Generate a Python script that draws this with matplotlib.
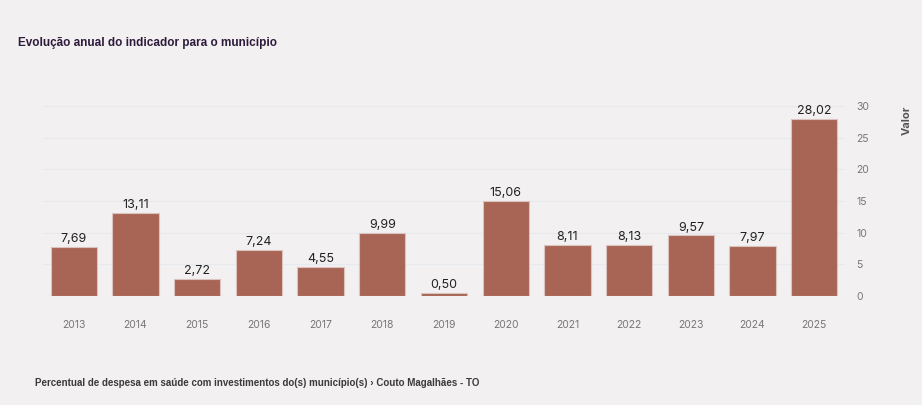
import matplotlib.pyplot as plt

years = ['2013', '2014', '2015', '2016', '2017', '2018', '2019',
         '2020', '2021', '2022', '2023', '2024', '2025']
valores = [7.69, 13.11, 2.72, 7.24, 4.55, 9.99, 0.50,
           15.06, 8.11, 8.13, 9.57, 7.97, 28.02]
yticks = [0, 5, 10, 15, 20, 25, 30]

bg = '#f2f0f1'
bar_color = '#a86555'

fig = plt.figure(figsize=(9.22, 4.05), dpi=100, facecolor=bg)
ax = fig.add_axes([0.0466, 0.269, 0.870, 0.469], facecolor=bg)

x = list(range(len(years)))
bars = ax.bar(x, valores, width=0.75, color=bar_color, edgecolor='#dcc3bf', linewidth=0.8, zorder=3)

for xi, v in zip(x, valores):
    ax.text(xi, v + 0.3, f'{v:.2f}'.replace('.', ','), ha='center', va='bottom',
            fontsize=9, color='#222222', family='Inter', zorder=4)

ax.set_xlim(-0.5, len(years) - 0.5)
ax.set_ylim(0, 30)
ax.set_xticks(x)
ax.set_xticklabels(years, family='Inter')
ax.set_yticks(yticks)
ax.set_yticklabels([str(t) for t in yticks], family='Inter')
ax.yaxis.tick_right()
ax.tick_params(axis='x', length=0, pad=17, labelsize=7.5, labelcolor='#777777')
ax.tick_params(axis='y', length=0, pad=8, labelsize=7.5, labelcolor='#777777')
ax.grid(axis='y', color='#e6e9ee', linewidth=0.8, zorder=0)
for s in ax.spines.values():
    s.set_visible(False)

fig.text(0.983, 0.738, 'Valor', rotation=90, ha='center', va='top',
         fontsize=8, fontweight='bold', color='#555555', family='Inter')

fig.text(0.0195, 0.894, 'Evolução anual do indicador para o município',
         fontsize=8.5, fontweight='bold', color='#2e1b3b', va='center', family='Liberation Sans')
fig.text(0.038, 0.054,
         'Percentual de despesa em saúde com investimentos do(s) município(s) › Couto Magalhães - TO',
         fontsize=7, fontweight='bold', color='#3a3a3a', va='center', family='Liberation Sans')

fig.savefig('out.png', dpi=100, facecolor=bg)
